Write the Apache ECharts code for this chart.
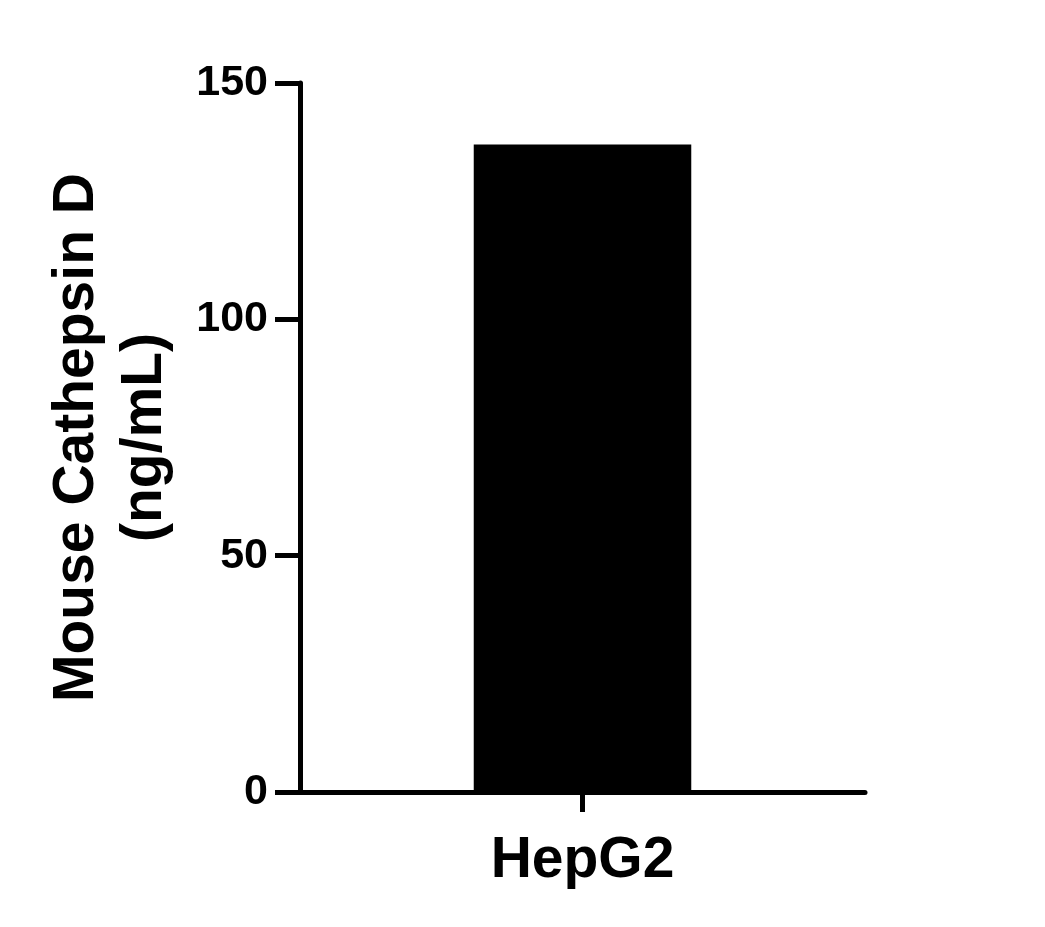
<!DOCTYPE html>
<html>
<head>
<meta charset="utf-8">
<script src="https://cdn.jsdelivr.net/npm/echarts@6/dist/echarts.min.js"></script>
<style>
html,body{margin:0;padding:0;background:#fff;}
#chart{width:1045px;height:927px;}
</style>
</head>
<body>
<div id="chart"></div>
<script>
// data
var categories = ['HepG2'];
var values = [137];
var yTitle = 'Mouse Cathepsin D\n(ng/mL)';

var chart = echarts.init(document.getElementById('chart'));
var font = '"Liberation Sans", Arial, sans-serif';

var option = {
	animation: false,
	grid: {
		left: 300,
		right: 180,
		top: 83,
		bottom: 135
	},
	xAxis: {
		type: 'category',
		data: categories,
		axisLine: {lineStyle: {color: '#000', width: 5}},
		axisTick: {show: true, alignWithLabel: true, length: 20, lineStyle: {color: '#000', width: 5}},
		axisLabel: {
			color: '#000',
			fontFamily: font,
			fontWeight: 'bold',
			fontSize: 57,
			margin: 41
		}
	},
	yAxis: {
		type: 'value',
		min: 0,
		max: 150,
		interval: 50,
		name: yTitle,
		nameLocation: 'middle',
		nameRotate: 90,
		nameGap: 121,
		nameTextStyle: {
			color: '#000',
			fontFamily: font,
			fontWeight: 'bold',
			fontSize: 57,
			lineHeight: 68,
			align: 'center'
		},
		splitLine: {show: false},
		axisLine: {show: true, lineStyle: {color: '#000', width: 5}},
		axisTick: {show: true, length: 25, lineStyle: {color: '#000', width: 5}},
		axisLabel: {
			color: '#000',
			fontFamily: font,
			fontWeight: 'bold',
			fontSize: 43,
			margin: 32
		}
	},
	series: [
		{
			type: 'bar',
			data: values,
			barWidth: '38.5%',
			itemStyle: {color: '#000'}
		}
	]
};

chart.setOption(option);
</script>
</body>
</html>
